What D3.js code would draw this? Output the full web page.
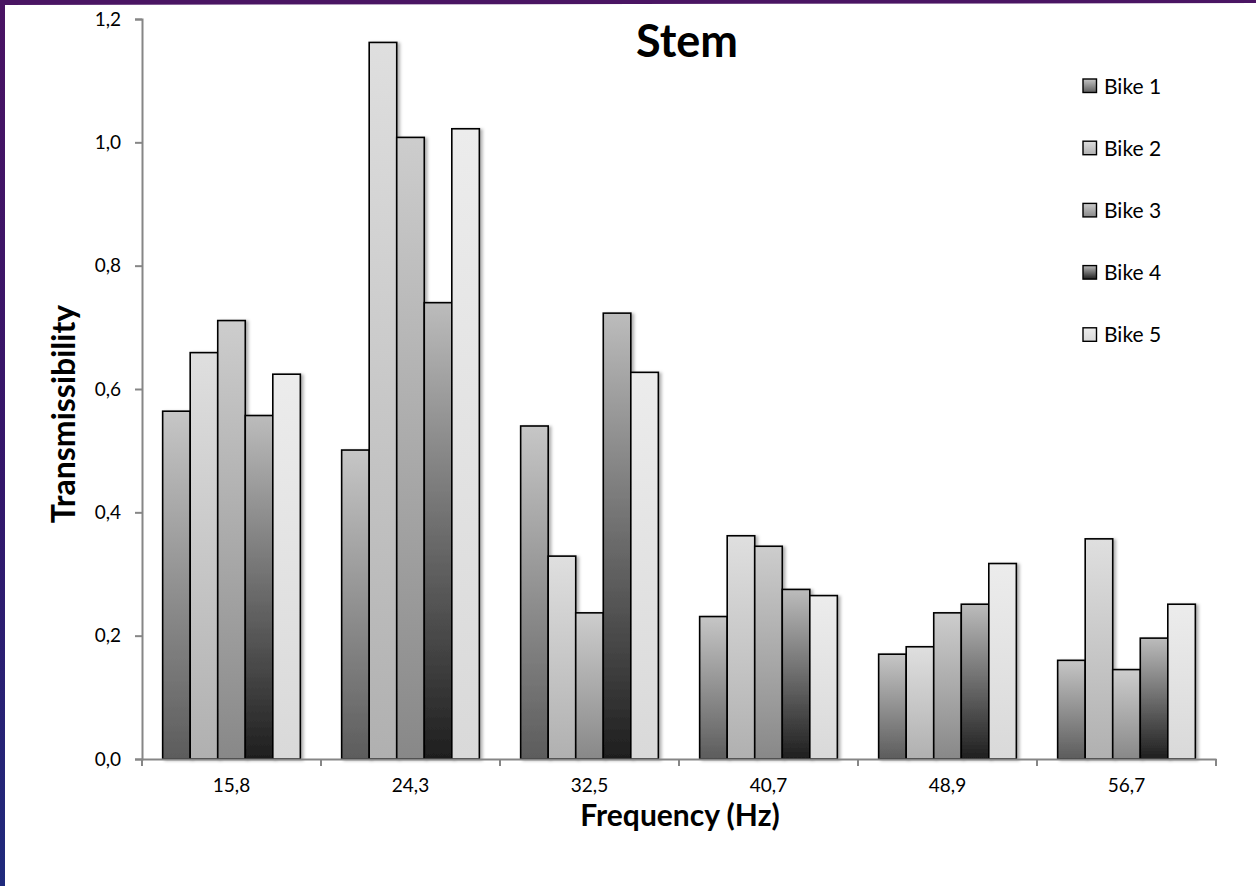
<!DOCTYPE html>
<html>
<head>
<meta charset="utf-8">
<script src="https://cdn.jsdelivr.net/npm/d3@7"></script>
<style>
  html, body { margin: 0; padding: 0; background: #ffffff; }
  svg { display: block; }
  text { font-family: Lato, "Open Sans", "Liberation Sans", sans-serif; fill: #000; }
</style>
</head>
<body>
<svg id="chart" width="1256" height="886"></svg>
<script>
// Frequency bands (Hz) shown on the category axis
const categories = ["15,8", "24,3", "32,5", "40,7", "48,9", "56,7"];
const seriesNames = ["Bike 1", "Bike 2", "Bike 3", "Bike 4", "Bike 5"];

// Transmissibility per bike, one value per frequency band
const bike1 = [0.564, 0.501, 0.540, 0.231, 0.170, 0.160];
const bike2 = [0.659, 1.162, 0.329, 0.362, 0.182, 0.357];
const bike3 = [0.711, 1.008, 0.237, 0.345, 0.237, 0.145];
const bike4 = [0.557, 0.740, 0.723, 0.275, 0.251, 0.196];
const bike5 = [0.624, 1.022, 0.627, 0.265, 0.317, 0.251];

const yTicks = [0, 0.2, 0.4, 0.6, 0.8, 1.0, 1.2];

const seriesValues = [bike1, bike2, bike3, bike4, bike5];

// Fill gradients per series: [bottom colour, top colour]
const seriesGradients = [
  ["#5c5c5c", "#c6c6c6"],
  ["#b0b0b0", "#dfdfdf"],
  ["#888888", "#cdcdcd"],
  ["#1e1e1e", "#bcbcbc"],
  ["#d9d9d9", "#ececec"]
];

const svg = d3.select("#chart");
const W = 1256, H = 886;

// Frame: purple band along the top, purple-to-blue band down the left side
const defs = svg.append("defs");
const frameGrad = defs.append("linearGradient")
  .attr("id", "frameLeft").attr("x1", 0).attr("y1", 0).attr("x2", 0).attr("y2", 1);
frameGrad.append("stop").attr("offset", "0%").attr("stop-color", "#4a1363");
frameGrad.append("stop").attr("offset", "55%").attr("stop-color", "#33176b");
frameGrad.append("stop").attr("offset", "100%").attr("stop-color", "#1f2a7c");

svg.append("rect").attr("x", 0).attr("y", 0).attr("width", W).attr("height", H).attr("fill", "#ffffff");
svg.append("rect").attr("x", 0).attr("y", 0).attr("width", 5).attr("height", H).attr("fill", "url(#frameLeft)");
svg.append("polygon").attr("points", `0,0 ${W},0 ${W},3 0,5`).attr("fill", "#4a1563");

// Bar gradients (bottom dark -> top light)
seriesGradients.forEach((g, i) => {
  const lg = defs.append("linearGradient")
    .attr("id", "grad" + i).attr("x1", 0).attr("y1", 1).attr("x2", 0).attr("y2", 0);
  lg.append("stop").attr("offset", "0%").attr("stop-color", g[0]);
  lg.append("stop").attr("offset", "100%").attr("stop-color", g[1]);
});

const shadow = defs.append("filter").attr("id", "barShadow")
  .attr("x", "-20%").attr("y", "-5%").attr("width", "150%").attr("height", "115%");
shadow.append("feDropShadow").attr("dx", 2.5).attr("dy", 1).attr("stdDeviation", 1.8)
  .attr("flood-color", "#000").attr("flood-opacity", 0.3);

// Scales
const plot = { left: 142, right: 1216, top: 19, bottom: 759 };
const y = d3.scaleLinear().domain([0, 1.2]).range([plot.bottom, plot.top]);
const x0 = d3.scaleBand().domain(categories).range([plot.left, plot.right]).padding(0);
const bw = x0.bandwidth();
const halfGap = bw * 0.75 / 6.5;
const x1 = d3.scaleBand().domain(seriesNames).range([halfGap, bw - halfGap]).padding(0);

// Bars
const groups = svg.append("g").selectAll("g")
  .data(categories)
  .join("g")
  .attr("transform", d => `translate(${x0(d)},0)`);

groups.selectAll("rect")
  .data((c, ci) => seriesNames.map((s, si) => ({ s, si, v: seriesValues[si][ci] })))
  .join("rect")
  .attr("x", d => x1(d.s))
  .attr("y", d => y(d.v))
  .attr("width", x1.bandwidth())
  .attr("height", d => y(0) - y(d.v))
  .attr("fill", d => `url(#grad${d.si})`)
  .attr("stroke", "#000")
  .attr("stroke-width", 1.6)
  .attr("filter", "url(#barShadow)");

// Y axis
const yAxis = d3.axisLeft(y)
  .tickValues(yTicks)
  .tickFormat(d => d.toFixed(1).replace(".", ","))
  .tickSize(7)
  .tickPadding(14);
const gy = svg.append("g").attr("transform", `translate(${plot.left},0)`).call(yAxis);
gy.select(".domain").attr("stroke", "#868686").attr("stroke-width", 2);
gy.selectAll(".tick line").attr("stroke", "#868686").attr("stroke-width", 2);
gy.selectAll(".tick text").style("font-size", "19px").attr("fill", "#000");

// X axis: category labels centred, tick marks at category boundaries
const xAxis = d3.axisBottom(x0).tickSize(0).tickPadding(20);
const gx = svg.append("g").attr("transform", `translate(0,${plot.bottom})`).call(xAxis);
gx.select(".domain").attr("stroke", "#868686").attr("stroke-width", 2);
gx.selectAll(".tick text").style("font-size", "19px").attr("fill", "#000");

const boundaries = categories.map(c => x0(c)).concat([x0(categories[categories.length - 1]) + bw]);
gx.selectAll("line.bound")
  .data(boundaries)
  .join("line")
  .attr("class", "bound")
  .attr("x1", d => d).attr("x2", d => d)
  .attr("y1", 0).attr("y2", 7)
  .attr("stroke", "#868686").attr("stroke-width", 2);

// Title and axis titles
svg.append("text")
  .attr("x", 687).attr("y", 57)
  .attr("text-anchor", "middle")
  .style("font-size", "45px").style("font-weight", "bold")
  .text("Stem");

svg.append("text")
  .attr("transform", "translate(75,414) rotate(-90)")
  .attr("text-anchor", "middle")
  .style("font-size", "32px").style("font-weight", "bold")
  .text("Transmissibility");

svg.append("text")
  .attr("x", 680).attr("y", 826)
  .attr("text-anchor", "middle")
  .style("font-size", "30px").style("font-weight", "bold")
  .text("Frequency (Hz)");

// Legend
const legend = svg.append("g").selectAll("g")
  .data(seriesNames)
  .join("g")
  .attr("transform", (d, i) => `translate(1083,${86 + i * 62.2})`);

legend.append("rect")
  .attr("x", 0).attr("y", -7)
  .attr("width", 13.5).attr("height", 13.5)
  .attr("fill", (d, i) => `url(#grad${i})`)
  .attr("stroke", "#000").attr("stroke-width", 1.4);

legend.append("text")
  .attr("x", 21).attr("y", 0).attr("dy", "0.36em")
  .style("font-size", "21px")
  .text(d => d);
</script>
</body>
</html>
